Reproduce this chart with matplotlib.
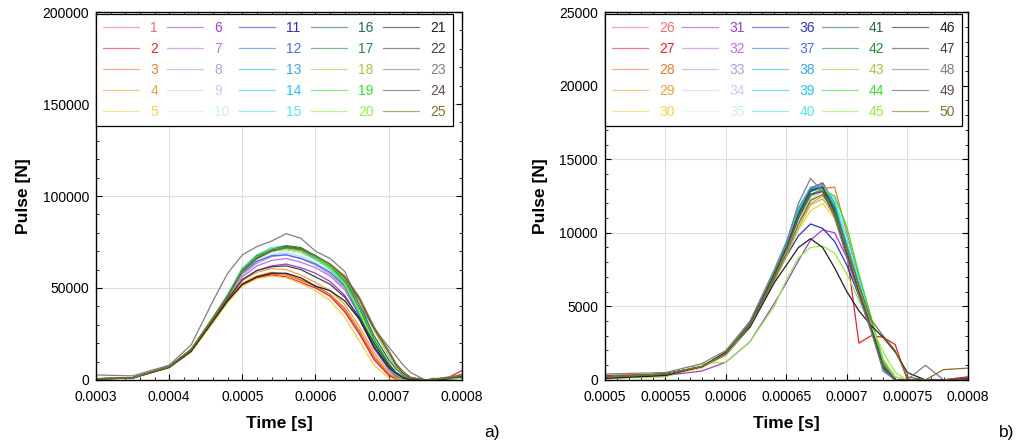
import numpy as np
import matplotlib
matplotlib.use("Agg")
import matplotlib.pyplot as plt
from matplotlib.ticker import MultipleLocator, AutoMinorLocator

plt.rcParams['font.family'] = ['Liberation Sans', 'DejaVu Sans']

# colores de las 25 series (se repiten en b)
colores = ['#f07070', '#e8202a', '#e87830', '#f0a040', '#f5d040',
           '#a040d0', '#c070e0', '#b898e0', '#d0c8f0', '#c8f0f0',
           '#3030c0', '#4070f0', '#30a8e8', '#20c8f0', '#50e8f0',
           '#207040', '#209030', '#b0c040', '#30e030', '#90f040',
           '#202020', '#404040', '#808080', '#605050', '#807030']

# panel a) tiempo en ms, pulso en kN
t_a = [0.30, 0.35, 0.40, 0.43, 0.46, 0.48, 0.50, 0.52, 0.54, 0.56, 0.58, 0.60,
       0.62, 0.64, 0.66, 0.68, 0.70, 0.71, 0.72, 0.73, 0.75, 0.78, 0.80]
p1 = [0.5, 1.0, 6.8, 15.5, 32, 43, 52, 56, 57.5, 57, 54, 51, 46.5, 38, 26, 12, 3, 1, 0, 0, 0, 0.5, 2]
p2 = [0.4, 1.0, 6.8, 15.5, 32, 43, 51.5, 55.5, 57, 56, 53, 50, 45.5, 37, 25, 11, 2.5, 0.5, 0, 0, 0, 1, 5]
p3 = [0.5, 1.1, 7.0, 16, 32.5, 43.5, 52.5, 56.5, 58.5, 57.5, 54.5, 51, 46.5, 39, 27, 13, 3.5, 1, 0, 0, 0, 0.5, 1]
p4 = [0.5, 1.1, 7.0, 16, 33, 44, 54, 58.5, 60.5, 60, 57, 53, 48.5, 41, 29, 15, 4.5, 1.5, 0, 0, 0, 0.3, 1]
p5 = [0.6, 1.0, 6.6, 15, 31, 42, 51, 55, 56.5, 55.5, 52.5, 48.5, 43, 34, 21, 8, 1, 0, 0, 0, 0, 0.5, 1]
p6 = [0.5, 1.1, 7.0, 16, 32.5, 44, 54.5, 59.5, 62, 63, 61, 58, 53.5, 46, 33, 17, 6, 2.5, 0.5, 0, 0, 0.5, 1]
p7 = [0.5, 1.1, 7.0, 16, 33, 44.5, 56, 62, 65, 66, 64, 61, 56.5, 49, 35, 18, 7, 3, 1, 0, 0, 0.5, 1]
p8 = [0.5, 1.1, 7.0, 16, 33, 45, 57, 63.5, 67, 68, 66, 62.5, 57.5, 50, 36, 19, 7.5, 3, 1, 0, 0, 0.5, 1]
p9 = [0.5, 1.1, 7.0, 16, 33, 45, 57.5, 64.5, 68, 69, 67, 63.5, 58.5, 51, 37, 20, 8, 3.5, 1, 0, 0, 0.5, 1]
p10 = [0.5, 1.1, 7.1, 16, 33, 45, 58, 65, 68.5, 70, 68, 64, 59.5, 52, 38, 20, 8, 3.5, 1, 0, 0, 0.5, 1]
p11 = [0.6, 1.2, 7.2, 16.5, 33.5, 45.5, 59, 66.5, 70.5, 72, 70.5, 66, 60.5, 52, 37, 20, 8, 4, 1, 0, 0, 0.5, 2]
p12 = [0.6, 1.1, 7.0, 16, 33, 45, 58, 64.5, 67.5, 68, 66, 63, 58.5, 51, 35, 18, 6, 2, 0.5, 0, 0, 0.5, 1.5]
p13 = [0.6, 1.2, 7.2, 16.5, 33.5, 45.5, 59, 66, 70, 71, 69.5, 65.5, 60.5, 52, 37, 20, 8, 3.5, 1, 0, 0, 0.5, 1]
p14 = [0.6, 1.2, 7.2, 16.5, 34, 46, 60, 67, 71, 72, 70.5, 66.5, 61, 53, 38, 21, 9, 4, 1, 0, 0, 0.5, 1]
p15 = [0.6, 1.2, 7.3, 16.5, 34, 46.5, 61, 68, 72, 73, 71, 67, 61.5, 53.5, 39, 22, 9, 4, 1.5, 0, 0, 0.5, 1]
p16 = [0.7, 1.2, 7.2, 16.5, 33.5, 45.5, 59, 66.5, 70.5, 72.5, 71.5, 67.5, 62.5, 55, 41, 24, 11, 6, 2.5, 0.5, 0, 1, 2]
p17 = [0.6, 1.2, 7.2, 16.5, 34, 46, 60, 67.5, 71, 73, 72, 67.5, 62, 53.5, 39, 22, 9, 4, 1, 0, 0, 0.5, 1]
p18 = [0.6, 1.1, 7.0, 16, 33, 45, 58.5, 66, 70, 71.5, 70.5, 67, 62.5, 55.5, 43, 27, 13, 7, 3, 1, 0, 1, 2]
p19 = [0.6, 1.2, 7.2, 16.5, 34, 46, 60, 67, 71, 72, 71, 67, 61.5, 53, 38, 21, 8, 3.5, 1, 0, 0, 0.5, 1]
p20 = [0.6, 1.2, 7.1, 16.5, 33.5, 45.5, 59, 66.5, 70, 71, 69.5, 65.5, 60.5, 52, 37, 20, 7.5, 3, 0.5, 0, 0, 0.5, 1]
p21 = [0.5, 1.0, 6.8, 15.5, 32, 43, 52, 56, 58, 58, 55.5, 51, 48.5, 43, 33, 18, 7, 3.5, 1, 0, 0, 0.5, 3]
p22 = [0.6, 1.1, 7.0, 16, 32.5, 44, 54.5, 59.5, 61.5, 62, 60, 56, 52, 45, 34, 20, 8, 4, 1.5, 0, 0, 1, 2]
p23 = [2.7, 2.2, 8.0, 19, 43, 58, 68, 72.5, 75.5, 79.5, 77, 70, 66, 59, 41, 28, 18, 13, 8, 4, 0, 1.5, 2.5]
p24 = [0.6, 1.2, 7.2, 16.5, 33.5, 45.5, 59, 66, 70, 72, 71, 67.5, 63, 56, 44, 28, 15, 8, 3.5, 1, 0, 1, 1.5]
p25 = [0.6, 1.2, 7.2, 16.5, 33.5, 45.5, 59.5, 66.5, 70.5, 72, 71, 67.5, 63, 56.5, 45, 29, 16, 9, 4.5, 1.5, 0, 1, 3]
pulsos_a = [p1, p2, p3, p4, p5, p6, p7, p8, p9, p10, p11, p12, p13, p14, p15,
            p16, p17, p18, p19, p20, p21, p22, p23, p24, p25]

# panel b)
t_b = [0.50, 0.55, 0.58, 0.60, 0.62, 0.64, 0.65, 0.66, 0.67, 0.68, 0.69, 0.70,
       0.71, 0.72, 0.73, 0.74, 0.75, 0.765, 0.78, 0.80]
q26 = [0.2, 0.4, 0.9, 1.8, 3.8, 7.2, 9.0, 11.3, 12.8, 13.2, 11.6, 8.8, 6.2, 3.7, 1.0, 0, 0, 0, 0, 0.2]
q27 = [0.3, 0.4, 0.9, 1.8, 3.9, 7.3, 9.2, 11.5, 13.0, 13.4, 12.0, 8.6, 2.5, 3.0, 2.9, 2.4, 0, 0, 0, 0.2]
q28 = [0.2, 0.4, 0.9, 1.8, 3.7, 7.0, 8.8, 10.9, 12.5, 13.0, 13.1, 10.0, 7.0, 4.0, 1.2, 0, 0, 0, 0, 0.1]
q29 = [0.2, 0.4, 0.9, 1.8, 3.7, 6.9, 8.6, 10.6, 12.0, 12.5, 11.5, 9.2, 6.5, 3.9, 1.3, 0, 0, 0, 0, 0]
q30 = [0.2, 0.3, 0.8, 1.7, 3.6, 6.7, 8.4, 10.2, 11.5, 12.0, 11.0, 8.8, 6.1, 3.4, 0.8, 0, 0, 0, 0, 0]
q31 = [0.2, 0.3, 0.6, 1.2, 2.6, 5.2, 6.6, 8.1, 9.5, 10.2, 10.0, 8.3, 6.1, 3.9, 1.2, 0, 0, 0, 0, 0]
q32 = [0.2, 0.4, 0.9, 1.8, 3.8, 7.1, 9.0, 11.2, 12.8, 13.2, 11.4, 8.7, 6.0, 3.5, 0.8, 0, 0, 0, 0, 0]
q33 = [0.2, 0.4, 0.9, 1.8, 3.8, 7.0, 8.9, 11.0, 12.6, 13.0, 11.3, 8.6, 6.1, 3.6, 0.9, 0, 0, 0, 0, 0]
q34 = [0.2, 0.4, 0.9, 1.8, 3.7, 6.9, 8.7, 10.7, 12.3, 12.8, 11.2, 8.6, 6.0, 3.5, 0.9, 0, 0, 0, 0, 0]
q35 = [0.2, 0.4, 0.9, 1.8, 3.8, 7.1, 8.9, 10.9, 12.5, 12.9, 11.5, 8.8, 6.2, 3.7, 0.9, 0, 0, 0, 0, 0]
q36 = [0.2, 0.4, 0.9, 1.7, 3.6, 6.8, 8.4, 9.8, 10.6, 10.3, 9.4, 7.8, 5.7, 3.4, 0.8, 0, 0, 0, 0, 0]
q37 = [0.2, 0.4, 0.9, 1.8, 3.9, 7.3, 9.2, 11.5, 13.0, 13.2, 11.4, 8.6, 6.0, 3.5, 0.6, 0, 0, 0, 0, 0]
q38 = [0.2, 0.4, 0.9, 1.8, 4.0, 7.5, 9.4, 11.7, 13.1, 13.3, 11.8, 9.0, 6.4, 3.9, 1.0, 0, 0, 0, 0, 0]
q39 = [0.2, 0.4, 0.9, 1.8, 3.9, 7.4, 9.3, 11.5, 12.9, 13.2, 12.0, 9.3, 6.6, 4.0, 1.1, 0, 0, 0, 0, 0]
q40 = [0.2, 0.4, 0.9, 1.8, 3.8, 7.2, 9.1, 11.3, 12.8, 13.1, 12.3, 9.7, 6.8, 4.2, 1.2, 0, 0, 0, 0, 0]
q41 = [0.2, 0.4, 0.9, 1.8, 3.8, 7.1, 8.9, 11.0, 12.6, 12.9, 11.6, 9.0, 6.4, 4.0, 1.2, 0, 0, 0, 0, 0]
q42 = [0.2, 0.4, 0.9, 1.8, 3.8, 7.2, 9.0, 11.2, 12.8, 13.1, 11.7, 8.9, 6.3, 3.7, 0.9, 0, 0, 0, 0, 0]
q43 = [0.2, 0.4, 0.9, 1.7, 3.6, 6.7, 8.4, 10.3, 11.9, 12.3, 11.2, 8.9, 6.3, 3.9, 1.4, 0.2, 0, 0, 0, 0]
q44 = [0.2, 0.4, 0.9, 1.8, 3.8, 7.1, 8.9, 11.0, 12.5, 12.9, 12.5, 10.4, 7.2, 4.3, 1.2, 0, 0, 0, 0, 0]
q45 = [0.1, 0.2, 1.1, 1.2, 2.6, 5.0, 6.8, 8.3, 9.0, 9.1, 8.6, 7.2, 5.4, 3.7, 1.9, 0.5, 0, 0, 0, 0]
q46 = [0.1, 0.3, 0.9, 1.9, 3.6, 6.6, 7.8, 9.0, 9.6, 9.0, 7.6, 6.0, 4.7, 3.7, 2.9, 1.9, 0.5, 0, 0, 0]
q47 = [0.2, 0.4, 0.9, 1.8, 3.8, 7.2, 9.0, 11.3, 12.9, 13.1, 11.4, 8.5, 5.9, 3.5, 0.8, 0, 0, 0, 0, 0.1]
q48 = [0.4, 0.5, 1.1, 2.0, 4.0, 7.4, 9.3, 12.0, 13.7, 12.8, 11.0, 8.3, 5.7, 3.3, 0.7, 0, 0, 1.0, 0, 0]
q49 = [0.2, 0.4, 0.9, 1.8, 3.8, 7.1, 8.9, 11.0, 12.6, 12.8, 11.2, 8.7, 6.0, 3.6, 1.0, 0, 0, 0, 0, 0]
q50 = [0.2, 0.4, 0.9, 1.8, 3.7, 6.9, 8.6, 10.6, 12.2, 12.6, 11.3, 9.0, 6.4, 4.1, 3.0, 2.0, 0.2, 0, 0.7, 0.8]
pulsos_b = [q26, q27, q28, q29, q30, q31, q32, q33, q34, q35, q36, q37, q38,
            q39, q40, q41, q42, q43, q44, q45, q46, q47, q48, q49, q50]


def dibujar(ax, t, pulsos, n0, xlim, ylim, xstep, ystep, bbox):
    t = np.array(t) * 1e-3
    for i, p in enumerate(pulsos):
        ax.plot(t, np.array(p) * 1000, color=colores[i], lw=0.9, label=str(n0 + i))
    ax.set_xlim(*xlim)
    ax.set_ylim(*ylim)
    ax.xaxis.set_major_locator(MultipleLocator(xstep))
    ax.yaxis.set_major_locator(MultipleLocator(ystep))
    ax.xaxis.set_minor_locator(AutoMinorLocator(5))
    ax.yaxis.set_minor_locator(AutoMinorLocator(5))
    ax.tick_params(which='both', direction='in', top=True, right=True, labelsize=10)
    ax.tick_params(which='major', length=4)
    ax.tick_params(which='minor', length=2.5)
    ax.tick_params(axis='x', pad=7)
    ax.tick_params(axis='y', pad=5)
    ax.grid(True, which='major', color='#dddddd', lw=0.8)
    ax.set_axisbelow(True)
    ax.set_xlabel("Time [s]", fontsize=12.5, fontweight='bold', labelpad=9)
    ax.set_ylabel("Pulse [N]", fontsize=12.5, fontweight='bold', labelpad=8)
    ax.xaxis.set_major_formatter(plt.FuncFormatter(lambda v, pos: ('%.5f' % v).rstrip('0')))
    ax.yaxis.set_major_formatter(plt.FuncFormatter(lambda v, pos: '%d' % round(v)))
    leg = ax.legend(ncol=5, loc='upper left', bbox_to_anchor=bbox, mode='expand',
                    borderaxespad=0, fontsize=10, handlelength=2.6, labelspacing=0.5,
                    framealpha=1, fancybox=False, edgecolor='black', borderpad=0.5)
    leg.get_frame().set_linewidth(0.9)
    for linea, texto in zip(leg.get_lines(), leg.get_texts()):
        texto.set_color(linea.get_color())
        linea.set_alpha(0.6)
    for s in ax.spines.values():
        s.set_linewidth(1.0)


fig = plt.figure(figsize=(10.19, 4.48), dpi=100)
ax1 = fig.add_axes([0.0942, 0.152, 0.359, 0.821])
ax2 = fig.add_axes([0.5937, 0.152, 0.356, 0.821])

dibujar(ax1, t_a, pulsos_a, 1, (0.0003, 0.0008), (0, 200000), 0.0001, 50000,
        (0.0, 0.71, 0.975, 0.285))
dibujar(ax2, t_b, pulsos_b, 26, (0.0005, 0.0008), (0, 25000), 0.00005, 5000,
        (0.0, 0.69, 0.983, 0.305))

fig.text(0.475, 0.025, "a)", fontsize=12.5)
fig.text(0.98, 0.025, "b)", fontsize=12.5)

fig.savefig("out.png", dpi=100)
